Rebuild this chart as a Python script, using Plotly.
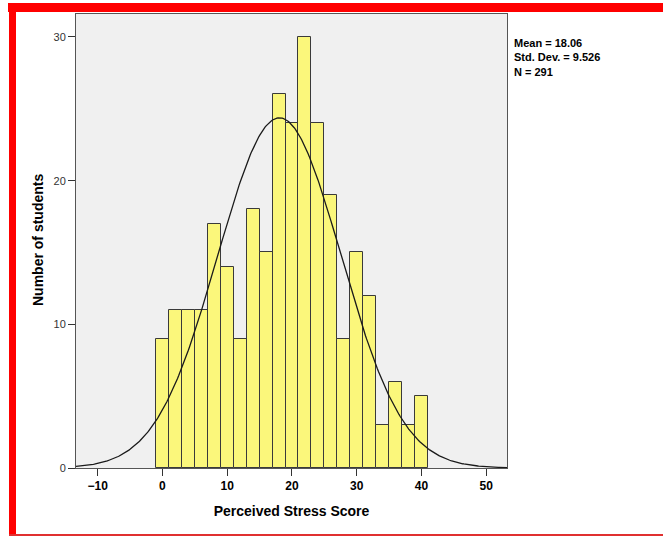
import numpy as np
import plotly.graph_objects as go

bin_centers = [0, 2, 4, 6, 8, 10, 12, 14, 16, 18, 20, 22, 24, 26, 28, 30, 32, 34, 36, 38, 40]
counts = [9, 11, 11, 11, 17, 14, 9, 18, 15, 26, 24, 30, 24, 19, 9, 15, 12, 3, 6, 3, 5]
bin_width = 2
mean = 18.06
std_dev = 9.526
n_total = 291
x_ticks = [-10, 0, 10, 20, 30, 40, 50]
y_ticks = [0, 10, 20, 30]

x_range = [-13.35, 53.2]
xs = np.linspace(x_range[0], x_range[1], 400)
curve = n_total * bin_width / (std_dev * np.sqrt(2 * np.pi)) * np.exp(-0.5 * ((xs - mean) / std_dev) ** 2)

fig = go.Figure()
fig.add_trace(go.Bar(x=bin_centers, y=counts, width=bin_width,
                     marker=dict(color="#FBF77B", line=dict(color="#3a3a3a", width=1)),
                     hoverinfo="x+y"))
fig.add_trace(go.Scatter(x=xs, y=curve, mode="lines", line=dict(color="#1a1a1a", width=1.3),
                         hoverinfo="skip"))

L, R, T, B = 76, 156, 14, 68
W, H = 663, 536
pw, ph = W - L - R, H - T - B

def px(x):
    return (x - L) / pw

def py(y):
    return (H - B - y) / ph

shapes = [
    dict(type="rect", xref="paper", yref="paper", x0=px(8), x1=px(663), y0=py(12), y1=py(3),
         fillcolor="#FF0000", line=dict(width=0), layer="above"),
    dict(type="rect", xref="paper", yref="paper", x0=px(9), x1=px(16), y0=py(536), y1=py(3),
         fillcolor="#FF0000", line=dict(width=0), layer="above"),
    dict(type="rect", xref="paper", yref="paper", x0=px(9), x1=px(663), y0=py(536), y1=py(534),
         fillcolor="#E03030", line=dict(width=0), layer="above"),
]

fig.update_layout(
    width=W, height=H,
    margin=dict(l=L, r=R, t=T, b=B),
    paper_bgcolor="white",
    plot_bgcolor="#F0F0F0",
    showlegend=False,
    bargap=0,
    font=dict(family="Liberation Sans, Arial, sans-serif", color="#000"),
    shapes=shapes,
    xaxis=dict(range=x_range, tickvals=x_ticks, ticks="outside", ticklen=7,
               tickcolor="#333", showgrid=False, zeroline=False, showline=True,
               linecolor="#555", linewidth=1, mirror=True,
               tickfont=dict(size=12, family="Liberation Sans, Arial, sans-serif", weight="bold"),
               title=dict(text="<b>Perceived Stress Score</b>", font=dict(size=14), standoff=13)),
    yaxis=dict(range=[0, 31.6], tickvals=y_ticks, ticks="outside", ticklen=7,
               tickcolor="#333", showgrid=False, zeroline=False, showline=True,
               linecolor="#555", linewidth=1, mirror=True,
               tickfont=dict(size=11, color="#333")),
    annotations=[
        dict(xref="paper", yref="paper", x=px(512), y=py(35), xanchor="left", yanchor="top",
             align="left", showarrow=False,
             text="<b>Mean = 18.06<br>Std. Dev. = 9.526<br>N = 291</b>",
             font=dict(size=11, color="#000")),
        dict(xref="paper", yref="paper", x=px(38), y=py(240), xanchor="center", yanchor="middle",
             textangle=-90, showarrow=False,
             text="<b>Number of students</b>", font=dict(size=14, color="#000")),
    ],
)

fig.write_html("out.html", config={"displayModeBar": False},
               post_script="document.body.style.margin='0';document.body.style.padding='0';")
